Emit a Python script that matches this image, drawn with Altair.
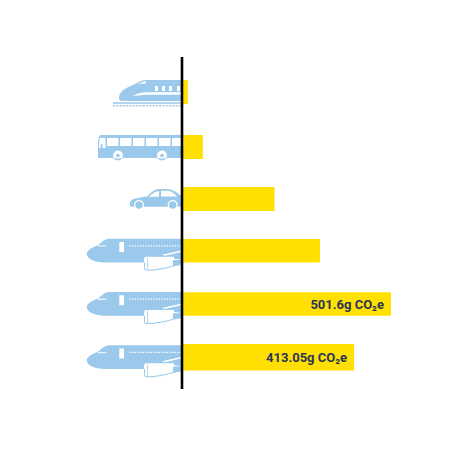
import altair as alt
import pandas as pd

# ---- values
modes = ["train", "bus", "car", "plane", "plane", "plane"]
grams = [14, 50, 222, 331, 501.6, 413.05]
labels = ["", "", "", "", "501.6g CO₂e", "413.05g CO₂e"]

# ---- layout (not data)
ROW_PX = [84, 139, 191, 242.7, 296, 349.3]
BAR_PX = [24, 24, 24, 23.5, 23.5, 26.5]
BLUE, YELLOW, INK = "#9BC9EC", "#FFE000", "#2A3558"


def rects(xs, y, w, h):
    return " ".join(f"M{x:.2f},{y}h{w}v{h}h{-w}Z" for x in xs)


def circle(cx, cy, r):
    return f"M{cx - r},{cy}a{r},{r} 0 1,0 {2 * r},0a{r},{r} 0 1,0 {-2 * r},0Z"


TRAIN = [
    (BLUE, "M0,-12L-38,-12C-43,-10.5 -47,-8 -50,-6.5C-57,-4 -63,0 -63,6C-63,8 -62,9 -60,9L0,9Z"
     + rects([-69], 10.3, 69, 1.4)
     + " " + rects([-69 + 3.3 * i for i in range(21)], 13, 2, 1.5)),
    ("white", "M-49,4C-45,1.5 -41,0.3 -36,0.3L0,0.3L0,2.8L-36,2.8Z"
     "M-45,-7.5C-42,-9 -39,-10.5 -36,-11L-36,-8.5C-39,-8.5 -42,-8 -45,-7.5Z "
     + rects([-27, -20, -13, -5], -6, 3, 5)),
]
BUS = [
    (BLUE, "M-81,-12L0,-12L0,11L-84,11L-84,-4C-84,-8 -83,-12 -81,-12Z"
     + circle(-64, 8.5, 4.9) + circle(-20, 8.5, 4.9)),
    ("white", rects([-75, -62, -49, -36, -23, -10], -9, 11.5, 8)
     + "M-82.5,-9L-76.5,-9L-76.5,1L-83,1Z" + circle(-64, 8.5, 3.2) + circle(-20, 8.5, 3.2)),
    (BLUE, circle(-64, 8.5, 1.8) + circle(-20, 8.5, 1.8) + "M-81,-3L-79.5,-3L-79.5,1L-81.5,1Z"),
]
CAR = [
    (BLUE, "M0,-2C-3,-5 -8,-9.5 -15,-10L-23,-10C-28,-10 -31,-6 -35,-2.5C-42,-1.5 -50,-1 -52,3"
     "C-53,6 -52,7.7 -50,7.7L0,7.7Z"),
    ("white", "M-33,-2.3C-30,-5 -27,-7.5 -23,-8L-23,-2.3Z"
     "M-21,-8.3L-13,-8.3C-10,-7.5 -7,-5 -5,-2.5L-21,-2.5Z" + circle(-43, 6, 5) + circle(-9.3, 6, 5)),
    (BLUE, circle(-43, 6, 3.8) + circle(-9.3, 6, 3.8)),
]
PLANE = [
    (BLUE, "M0,-12L-73,-12C-77,-12 -80,-9 -84,-5.5C-91,-3 -95.3,0 -95.3,3"
     "C-95.3,8 -87,11.7 -78,11.7L-37,11.7L-8,9.3L0,9.3Z"
     "M-36,6L-8,6L-8,15.5C-16,18 -26,20 -35,20C-37,20 -38,19 -38,17L-38,9C-38,7 -37,6 -36,6Z"
     "M-8,8L0,9L0,14L-8,15.5Z"),
    ("white", "M-35.5,7L-9,7L-9,14.7C-17,17 -26,19 -35,19C-36.5,19 -37,18 -37,17L-37,9C-37,8 -36.5,7 -35.5,7Z"
     "M-20,4L0,-0.5L0,1L-17,5Z"
     + rects([-62.7], -8.7, 4.7, 10) + " "
     + rects([-52.7 + 2.67 * i for i in range(20)], -5.5, 1.3, 1.3) + " "
     + rects([-84 + 2.2 * i for i in range(4)], -5.4, 1.7, 1.3)),
    (BLUE, rects([-34.7], 7, 0.8, 12)),
]
ICONS = {"train": TRAIN, "bus": BUS, "car": CAR, "plane": PLANE}

df = pd.DataFrame({
    "row": range(len(modes)),
    "mode": modes,
    "grams": grams,
    "zero": [0] * len(modes),
    "label": labels,
    "bar": BAR_PX,
})

x_scale = alt.Scale(domain=[-417.6, 643.2], range=[0, 442], nice=False, zero=False)
y_scale = alt.Scale(domain=list(range(len(modes))), range=ROW_PX, nice=False, zero=False)
X = alt.X("grams:Q", scale=x_scale, axis=None, stack=None)
X0 = alt.X("zero:Q", scale=x_scale, axis=None, stack=None)
Y = alt.Y("row:Q", scale=y_scale, axis=None)

# one bar per row; drawn as a rule so its thickness follows BAR_PX
bars = alt.Chart(df).mark_rule(color=YELLOW).encode(
    x=X, x2="zero:Q", y=Y, strokeWidth=alt.StrokeWidth("bar:Q", scale=None, legend=None)
)

layers = [bars]
for mode, parts in ICONS.items():
    sub = df[df["mode"] == mode]
    for color, path in parts:
        layers.append(
            alt.Chart(sub).mark_point(
                shape=path, size=4, filled=True, fill=color, opacity=1, strokeWidth=0
            ).encode(x=X0, y=Y)
        )

axis_line = alt.Chart(df.head(1)).mark_rule(color="black", strokeWidth=2.6).encode(
    x=X0, y=alt.value(49), y2=alt.value(381)
)
text = alt.Chart(df[df["label"] != ""]).mark_text(
    align="right", baseline="middle", dx=-7, dy=1, font="Roboto", fontWeight="bold", fontSize=13, color=INK
).encode(x=X, y=Y, text="label:N")

chart = alt.layer(*layers, axis_line, text).properties(
    width=442, height=442, padding=0
).configure_view(stroke=None)

chart.save("out.html", embed_options={"renderer": "svg", "actions": False})
